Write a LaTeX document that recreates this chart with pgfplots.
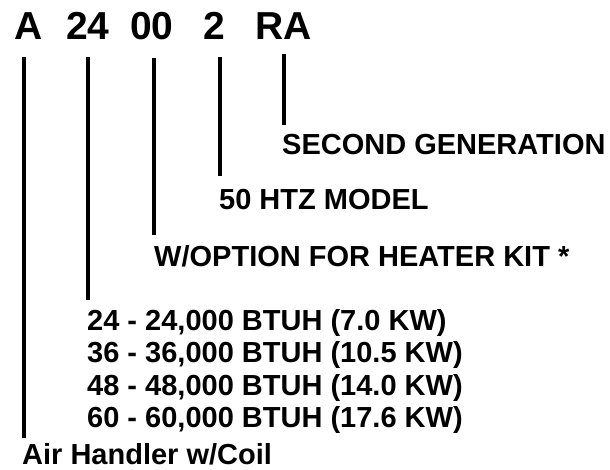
\documentclass[border=0pt]{standalone}
\usepackage{pgfplots}
\pgfplotsset{compat=1.18}
\usepackage{fontspec}
\setmainfont{Liberation Sans}
\begin{document}
\begin{tikzpicture}
\begin{axis}[
  scale only axis, width=610pt, height=469pt,
  xmin=0, xmax=610, ymin=0, ymax=469, y dir=reverse,
  hide axis, clip=false,
]
\path (axis cs:0,0) rectangle (axis cs:610,469);
% vertical leader lines
\addplot[black, line width=4pt, no marks] coordinates {(24,57) (24,438)};
\addplot[black, line width=4pt, no marks] coordinates {(88,57) (88,300)};
\addplot[black, line width=4pt, no marks] coordinates {(154,58) (154,235)};
\addplot[black, line width=3.5pt, no marks] coordinates {(220,57) (220,176)};
\addplot[black, line width=4pt, no marks] coordinates {(284,54) (284,125)};
% title characters
\begin{scope}[every node/.style={anchor=base west, inner sep=0pt, font=\fontsize{39}{39}\selectfont\bfseries}]
\node at (axis cs:14,39) {A};
\node at (axis cs:66,39) {24};
\node at (axis cs:130,39) {00};
\node at (axis cs:203,39) {2};
\node at (axis cs:255,39) {RA};
\end{scope}
\begin{scope}[every node/.style={anchor=base west, inner sep=0pt, font=\fontsize{29}{29}\selectfont\bfseries}]
\node at (axis cs:282,154) {SECOND GENERATION};
\node at (axis cs:219,209) {50 HTZ MODEL};
\node at (axis cs:154,266) {W/OPTION FOR HEATER KIT *};
\node at (axis cs:87,330) {24 - 24,000 BTUH (7.0 KW)};
\node at (axis cs:87,362.5) {36 - 36,000 BTUH (10.5 KW)};
\node at (axis cs:87,395) {48 - 48,000 BTUH (14.0 KW)};
\node at (axis cs:87,427) {60 - 60,000 BTUH (17.6 KW)};
\node[text depth=0pt] at (axis cs:22,464) {Air Handler w/Coil};
\end{scope}
\end{axis}
\end{tikzpicture}
\end{document}
